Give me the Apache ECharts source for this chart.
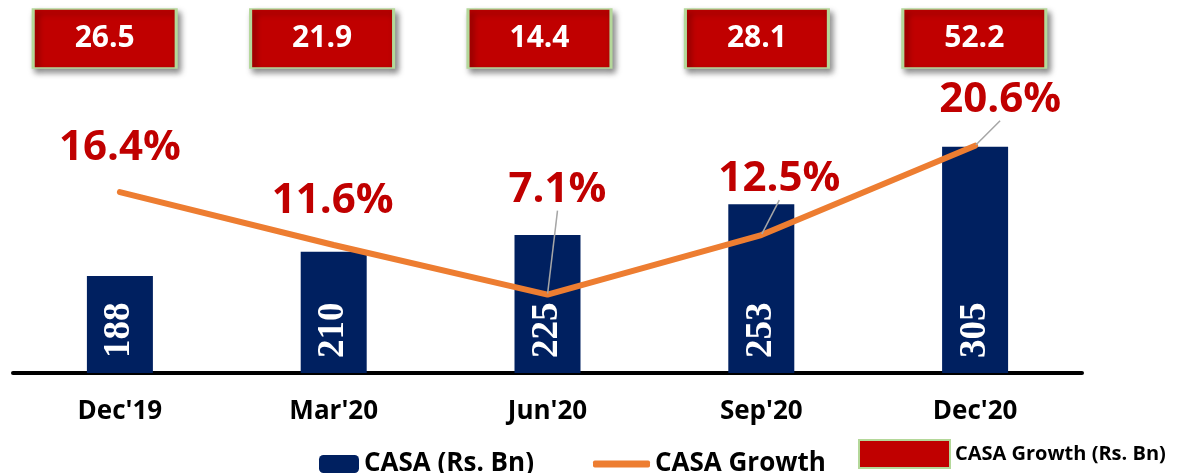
<!DOCTYPE html>
<html>
<head>
<meta charset="utf-8">
<script src="https://cdn.jsdelivr.net/npm/echarts@6/dist/echarts.min.js"></script>
<style>
  html, body { margin: 0; padding: 0; background: #fff; }
  #chart { width: 1190px; height: 473px; }
</style>
</head>
<body>
<div id="chart"></div>
<script>
// values
const quarters = ["Dec'19", "Mar'20", "Jun'20", "Sep'20", "Dec'20"];
const casa = [188, 210, 225, 253, 305];
const casaGrowthPct = [16.4, 11.6, 7.1, 12.5, 20.6];
const casaGrowthBn = [26.5, 21.9, 14.4, 28.1, 52.2];

// where each % label sits relative to its point, and whether it gets a leader line
const pctShift = [[0, -17], [-1, -17], [10, -78], [18, -29], [25, -19]];
const pctLeader = [false, false, true, true, true];

let dom = document.getElementById('chart');
let myChart = echarts.init(dom);

const mainFont = '"Open Sans", "Noto Sans", sans-serif';

let options = {
    animation: false,
    grid: [
        { left: 13, right: 108, top: 42, bottom: 100 },
        { left: 0, right: 103, top: 9, height: 59 }
    ],
    legend: [
        {
            left: 314, top: 446, itemWidth: 40, itemHeight: 18, itemGap: 5,
            textStyle: { fontFamily: mainFont, fontWeight: 'bold', fontSize: 26, color: '#000' },
            data: ['CASA (Rs. Bn)']
        },
        {
            left: 588, top: 446, itemWidth: 57, itemHeight: 7,
            textStyle: { fontFamily: mainFont, fontWeight: 'bold', fontSize: 26, color: '#000' },
            data: [{ name: 'CASA Growth', icon: 'roundRect' }]
        },
        {
            left: 853, top: 434, itemWidth: 91, itemHeight: 28, itemGap: 12,
            textStyle: { fontFamily: mainFont, fontWeight: 'bold', fontSize: 20, color: '#000' },
            data: ['CASA Growth (Rs. Bn)']
        }
    ],
    xAxis: [
        {
            type: 'category',
            gridIndex: 0,
            data: quarters,
            axisLine: { show: true, lineStyle: { color: '#000', width: 4 } },
            axisTick: { show: false },
            axisLabel: {
                margin: 26,
                fontFamily: mainFont, fontWeight: 'bold', fontSize: 26, color: '#000'
            }
        },
        {
            type: 'category',
            gridIndex: 1,
            data: quarters,
            show: false
        }
    ],
    yAxis: [
        { type: 'value', gridIndex: 0, min: 100, max: 400, show: false, splitLine: { show: false } },
        { type: 'value', gridIndex: 0, min: 0, max: 30, show: false, splitLine: { show: false } },
        { type: 'value', gridIndex: 1, min: -1, max: 1, show: false, splitLine: { show: false } }
    ],
    series: [
        {
            name: 'CASA (Rs. Bn)',
            type: 'bar',
            xAxisIndex: 0,
            yAxisIndex: 0,
            barWidth: 66,
            data: casa,
            itemStyle: { color: '#002060' },
            label: {
                show: true,
                position: 'insideBottom',
                distance: 15,
                rotate: 90,
                align: 'left',
                verticalAlign: 'middle',
                fontFamily: '"Liberation Serif", "DejaVu Serif", serif',
                fontWeight: 'bold',
                fontSize: 37,
                color: '#fff'
            },
            z: 2
        },
        {
            name: 'CASA Growth',
            type: 'line',
            xAxisIndex: 0,
            yAxisIndex: 1,
            data: casaGrowthPct.map((v, i) => ({
                value: v,
                labelLine: { show: pctLeader[i] }
            })),
            symbol: 'circle',
            symbolSize: 2,
            showSymbol: true,
            lineStyle: { color: '#ED7D31', width: 6, cap: 'round' },
            itemStyle: { color: '#ED7D31' },
            label: {
                show: true,
                position: 'top',
                distance: 5,
                formatter: p => p.value + '%',
                fontFamily: mainFont,
                fontWeight: 'bold',
                fontSize: 42,
                color: '#C00000'
            },
            labelLine: {
                show: true,
                lineStyle: { color: '#A6A6A6', width: 1.5 }
            },
            labelLayout: p => ({ dx: pctShift[p.dataIndex][0], dy: pctShift[p.dataIndex][1] }),
            z: 3
        },
        {
            name: 'CASA Growth (Rs. Bn)',
            type: 'scatter',
            xAxisIndex: 1,
            yAxisIndex: 2,
            symbol: 'rect',
            symbolSize: [143, 59],
            symbolOffset: [-4, 0],
            data: casaGrowthBn.map((v, i) => [i, 0]),
            itemStyle: {
                color: '#C00000',
                opacity: 1,
                borderColor: '#B4D89A',
                borderWidth: 2,
                shadowBlur: 6,
                shadowColor: 'rgba(0,0,0,0.45)',
                shadowOffsetX: 3,
                shadowOffsetY: 4
            },
            label: {
                show: true,
                position: 'inside',
                formatter: p => casaGrowthBn[p.dataIndex].toFixed(1),
                fontFamily: mainFont,
                fontWeight: 'bold',
                fontSize: 30,
                color: '#fff'
            }
        }
    ]
};

myChart.setOption(options);
</script>
</body>
</html>
